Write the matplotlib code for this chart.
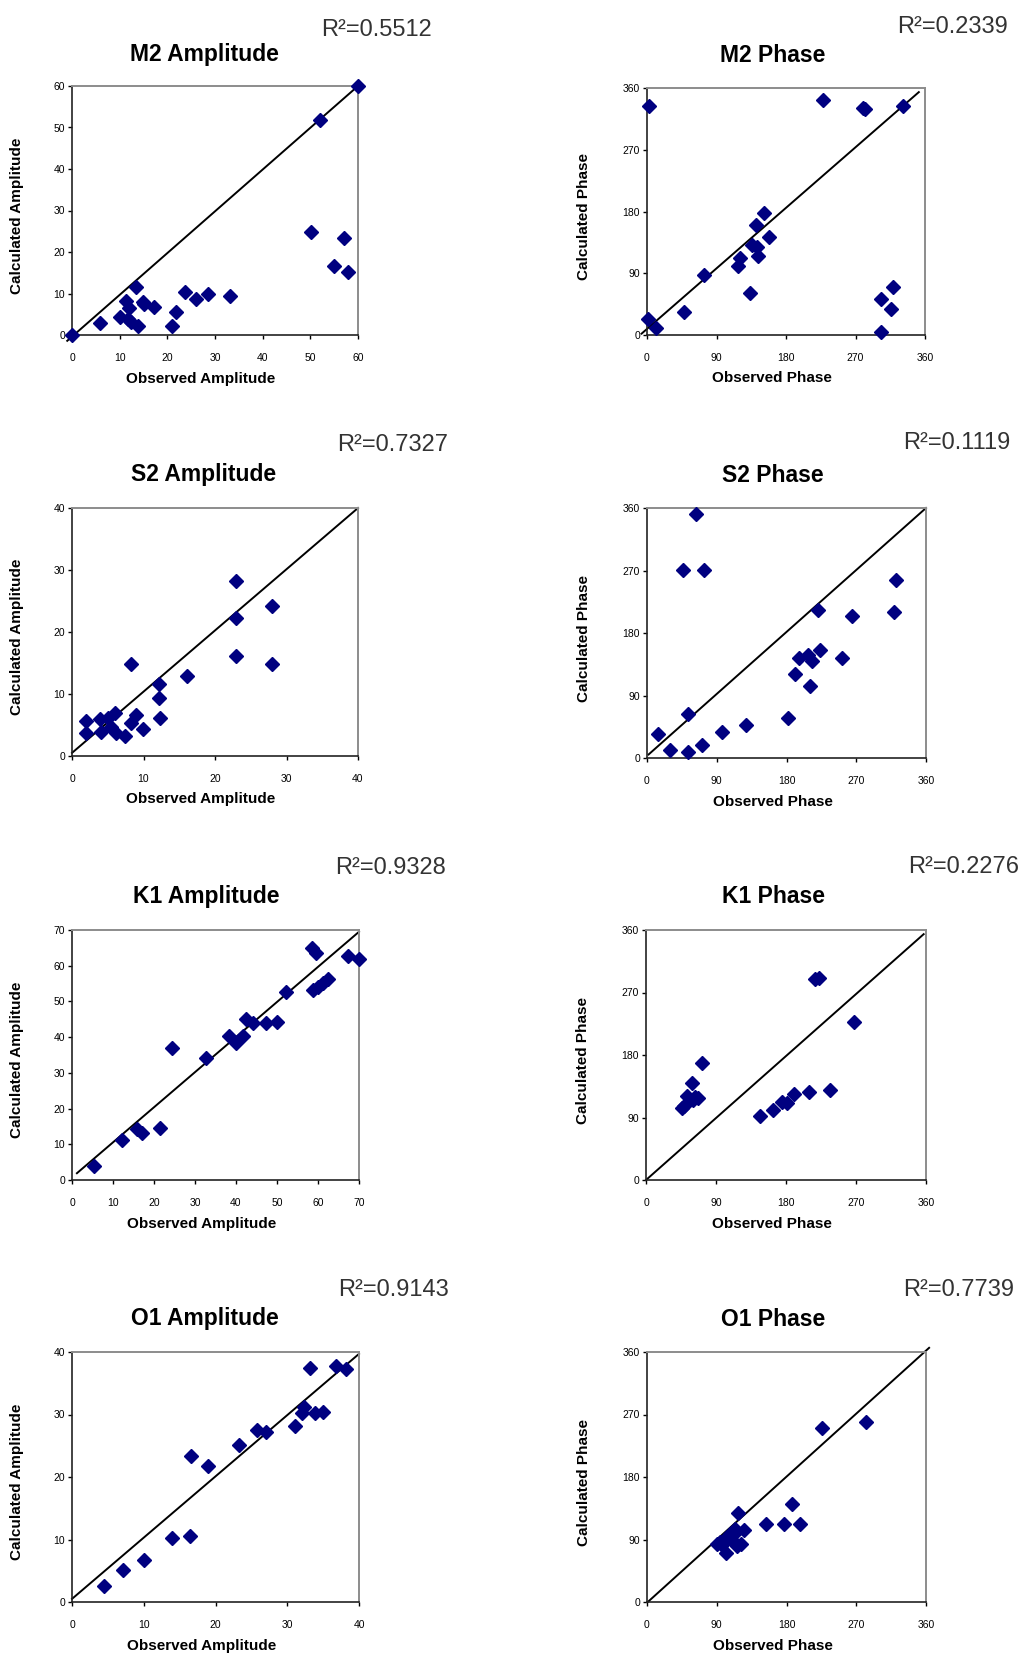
import matplotlib
matplotlib.use("Agg")
import matplotlib.pyplot as plt

plt.rcParams['font.family'] = ['Liberation Sans', 'DejaVu Sans']

# observed vs calculated tidal constituents
m2_amp_obs = [0, 5.8, 10.0, 11.3, 12.0, 11.7, 12.4, 13.5, 13.8, 14.9, 15.2, 17.1, 20.9, 21.8,
              23.8, 26.1, 28.5, 33.1, 50.2, 52.0, 54.9, 57.0, 57.9, 60]
m2_amp_cal = [0, 3.0, 4.3, 8.3, 6.4, 3.8, 3.2, 11.5, 2.2, 8.0, 7.5, 6.7, 2.2, 5.6,
              10.4, 8.6, 10.0, 9.5, 24.9, 51.9, 16.7, 23.4, 15.2, 60]

m2_ph_obs = [2.2, 228.2, 279.2, 282.2, 331.9, 152.1, 141.7, 157.7, 136.1, 142.6, 144.3, 121.0,
             118.0, 73.9, 134.0, 48.4, 1.3, 12.1, 302.5, 318.0, 315.5, 302.5]
m2_ph_cal = [333.8, 343.0, 331.4, 330.0, 333.3, 177.1, 159.6, 142.2, 131.0, 127.6, 115.0, 111.6,
             100.4, 87.3, 60.6, 34.0, 23.3, 9.7, 52.4, 69.4, 37.4, 4.9]

s2_amp_obs = [1.9, 1.9, 3.9, 4.0, 5.0, 5.4, 6.0, 6.1, 7.4, 8.2, 8.3, 9.0, 9.9, 12.2, 12.1, 12.3,
              16.1, 23.0, 23.0, 23.0, 28.0, 28.0]
s2_amp_cal = [5.6, 3.7, 5.9, 3.8, 6.2, 4.7, 7.0, 3.7, 3.3, 14.9, 5.3, 6.6, 4.3, 11.6, 9.4, 6.2,
              12.9, 28.3, 22.3, 16.2, 24.2, 14.9]

s2_ph_obs = [63.2, 46.0, 74.0, 321.3, 318.7, 220.6, 265.0, 223.7, 196.6, 207.7, 212.9, 251.6,
             190.5, 209.9, 52.9, 13.8, 30.1, 52.9, 71.0, 96.8, 127.7, 181.9]
s2_ph_cal = [350.9, 270.3, 270.3, 256.8, 210.3, 213.6, 204.5, 156.0, 144.5, 147.9, 139.7, 144.0,
             121.5, 103.7, 63.9, 35.0, 12.0, 8.6, 18.2, 37.4, 47.0, 58.1]

k1_amp_obs = [5.4, 12.3, 15.8, 17.0, 21.5, 24.3, 32.6, 38.4, 40.0, 41.8, 42.4, 44.2, 47.2, 50.0,
              52.1, 58.6, 59.6, 58.8, 60.0, 61.1, 62.4, 67.2, 70.0]
k1_amp_cal = [4.0, 11.2, 14.2, 13.3, 14.7, 37.1, 34.3, 40.4, 38.5, 40.3, 45.0, 43.9, 43.9, 44.3,
              52.7, 65.1, 63.5, 53.2, 54.1, 55.1, 56.2, 62.7, 61.8]

k1_ph_obs = [217.5, 221.8, 266.8, 71.6, 58.8, 52.3, 45.9, 49.0, 63.0, 67.4, 60.0, 146.7, 163.9,
             174.6, 181.0, 190.9, 210.2, 236.8]
k1_ph_cal = [289.0, 291.4, 228.0, 168.0, 139.2, 121.4, 103.2, 106.6, 120.0, 117.6, 115.2, 92.6,
             100.8, 112.8, 110.4, 123.4, 127.2, 129.6]

o1_amp_obs = [4.5, 7.1, 10.0, 13.9, 16.4, 16.6, 18.9, 23.3, 25.8, 27.0, 31.1, 32.0, 32.3, 33.2,
              33.9, 35.0, 36.8, 38.2]
o1_amp_cal = [2.6, 5.1, 6.7, 10.2, 10.6, 23.4, 21.8, 25.2, 27.6, 27.2, 28.2, 30.2, 31.2, 37.4,
              30.3, 30.4, 37.8, 37.3]

o1_ph_obs = [282.6, 226.2, 187.1, 117.0, 154.0, 177.2, 197.0, 125.6, 114.0, 107.5, 103.2, 93.8,
             90.3, 96.8, 101.9, 109.7, 116.1, 121.7, 111.8]
o1_ph_cal = [259.2, 250.6, 141.6, 128.2, 112.8, 112.8, 112.8, 104.2, 105.6, 98.4, 93.6, 86.4,
             84.0, 81.6, 70.6, 89.8, 80.2, 84.0, 98.4]

titles = ["M2 Amplitude", "M2 Phase", "S2 Amplitude", "S2 Phase",
          "K1 Amplitude", "K1 Phase", "O1 Amplitude", "O1 Phase"]
r2_values = [0.5512, 0.2339, 0.7327, 0.1119, 0.9328, 0.2276, 0.9143, 0.7739]
axis_max = [60, 360, 40, 360, 70, 360, 40, 360]
tick_step = [10, 90, 10, 90, 10, 90, 10, 90]
# ends of the 1:1 reference line (data units)
ref_lines = [((-1, -1.4), (60, 60)), ((-7, 2), (352, 354)),
             ((0, 0.5), (40, 40)), ((2, 5), (360, 360)),
             ((1.2, 1.9), (70, 69.5)), ((0, 0), (357, 354)),
             ((0, 0.5), (40, 39.7)), ((1, 0), (364, 366))]

series = [(m2_amp_obs, m2_amp_cal), (m2_ph_obs, m2_ph_cal),
          (s2_amp_obs, s2_amp_cal), (s2_ph_obs, s2_ph_cal),
          (k1_amp_obs, k1_amp_cal), (k1_ph_obs, k1_ph_cal),
          (o1_amp_obs, o1_amp_cal), (o1_ph_obs, o1_ph_cal)]

W, H = 1024, 1655
fig = plt.figure(figsize=(W / 100, H / 100), dpi=100)

# axes boxes in pixels: left, top, right, bottom
boxes = [(72, 86, 358, 335), (647, 88, 925, 335),
         (72, 508, 358, 756), (647, 508, 926, 758),
         (72, 930, 359, 1180), (646, 930, 926, 1180),
         (72, 1352, 359, 1602), (647, 1352, 926, 1602)]
title_pos = [(204, 55), (773, 55), (204, 475), (773, 475),
             (206, 897), (773, 897), (205, 1319), (773, 1319)]
r2_pos = [(321, 30), (897, 27), (337, 445), (903, 443),
          (335, 868), (908, 867), (338, 1290), (903, 1290)]

for i, (obs, cal) in enumerate(series):
    l, t, r, b = boxes[i]
    ax = fig.add_axes([l / W, 1 - b / H, (r - l) / W, (b - t) / H])
    vmax = axis_max[i]
    ax.set_xlim(0, vmax)
    ax.set_ylim(0, vmax)
    ticks = list(range(0, vmax + 1, tick_step[i]))
    ax.set_xticks(ticks)
    ax.set_yticks(ticks)
    ax.tick_params(direction='out', length=3, width=1, labelsize=7.5, pad=10,
                   colors='black')
    ax.tick_params(axis='y', pad=2)
    for side in ['top', 'right']:
        ax.spines[side].set_color('#8c8c8c')
        ax.spines[side].set_linewidth(1.4)
    for side in ['left', 'bottom']:
        ax.spines[side].set_color('#222222')
        ax.spines[side].set_linewidth(1.2)

    (x0, y0), (x1, y1) = ref_lines[i]
    ax.plot([x0, x1], [y0, y1], color='black', lw=1.4, clip_on=False, zorder=2)
    ax.plot(obs, cal, linestyle='none', marker='D', ms=6.8, color='#000080',
            markeredgecolor='#000080', clip_on=False, zorder=3)

    is_amp = "Amplitude" in titles[i]
    quantity = "Amplitude" if is_amp else "Phase"
    ax.set_xlabel("Observed " + quantity, fontsize=11, fontweight='bold')
    ax.set_ylabel("Calculated " + quantity, fontsize=11, fontweight='bold')
    ax.xaxis.set_label_coords(0.45, -0.147)
    ax.yaxis.set_label_coords(-0.168 if is_amp else -0.20, 0.48)

    tx, ty = title_pos[i]
    fig.text(tx / W, 1 - ty / H, titles[i], ha='center', va='center',
             fontsize=16.5, fontweight='bold')
    rx, ry = r2_pos[i]
    fig.text(rx / W, 1 - ry / H, "R\u00b2=%.4f" % r2_values[i], ha='left', va='center',
             fontsize=17, color='#333333')

fig.savefig("out.png", dpi=100, facecolor='white')
